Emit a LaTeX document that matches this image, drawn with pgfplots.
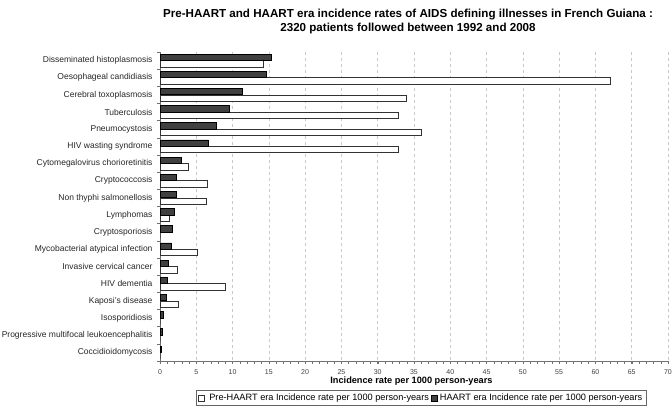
\documentclass[border=0pt]{standalone}
\usepackage{pgfplots}
\pgfplotsset{compat=1.18}
\usepackage{pgfplotstable}
\usepackage{fontspec}
\setmainfont{Liberation Sans}
\definecolor{haart}{HTML}{404040}
\definecolor{spine}{HTML}{707070}
\definecolor{gridc}{HTML}{C8C8C8}
\pgfplotstableread{
pos pre haart
0 14.3 15.4
1 62.1 14.7
2 33.9 11.3
3 32.9 9.6
4 36.0 7.8
5 32.8 6.7
6 3.9 2.9
7 6.5 2.3
8 6.4 2.2
9 1.3 2.0
10 0 1.7
11 5.1 1.6
12 2.4 1.2
13 9.0 1.0
14 2.6 0.9
15 0 0.45
16 0 0.35
17 0 0.15
}\datatab
\begin{document}
\begin{tikzpicture}
\useasboundingbox (0,0) rectangle (672bp,411bp);
\node[font=\bfseries\fontsize{11.6bp}{13bp}\selectfont, align=center] at (408bp,389bp)
 {Pre-HAART and HAART era incidence rates of AIDS defining illnesses in French Guiana :\\[1bp]2320 patients followed between 1992 and 2008};
\begin{axis}[
  at={(160bp,50bp)}, anchor=south west,
  scale only axis, width=508bp, height=309bp,
  xmin=0, xmax=70, ymin=-0.5, ymax=17.5,
  y dir=reverse,
  axis x line*=bottom, axis y line*=left,
  axis line style={spine, line width=0.6bp, -},
  xtick={0,5,...,70}, minor xtick={0,1,...,70},
  ytick={0,...,17},
  yticklabels={Disseminated histoplasmosis,Oesophageal candidiasis,Cerebral toxoplasmosis,Tuberculosis,Pneumocystosis,HIV wasting syndrome,Cytomegalovirus chorioretinitis,Cryptococcosis,Non thyphi salmonellosis,Lymphomas,Cryptosporiosis,Mycobacterial atypical infection,Invasive cervical cancer,HIV dementia,Kaposi's disease,Isosporidiosis,Progressive multifocal leukoencephalitis,Coccidioidomycosis},
  minor ytick={-0.5,0.5,...,17.5},
  tick align=outside,
  major tick length=3bp, minor tick length=2.5bp,
  ytick style={draw=none},
  minor y tick style={draw=spine, line width=0.5bp},
  xtick style={draw=spine, line width=0.5bp},
  minor x tick style={draw=spine, line width=0.4bp},
  xmajorgrids, major x grid style={gridc, dashed, line width=0.5bp},
  /pgf/number format/assume math mode=true,
  x tick label style={font=\fontsize{7bp}{8bp}\selectfont, text=black!75, yshift=-2bp},
  y tick label style={font=\fontsize{8.5bp}{9bp}\selectfont, text=black!85, xshift=-1bp},
  xlabel={Incidence rate per 1000 person-years},
  xlabel style={font=\bfseries\fontsize{9.2bp}{10bp}\selectfont, at={(axis description cs:0.495,-0.065)}, anchor=center},
  xbar, bar shift=0pt, bar width=0.37,
  legend columns=2,
  legend style={at={(axis description cs:0.514,-0.12)}, anchor=center, draw=black!60, line width=0.4bp,
     font=\fontsize{9.2bp}{10bp}\selectfont, inner sep=1.5bp},
  legend image code/.code={\draw[#1, line width=0.5bp] (1bp,-3.2bp) rectangle (7.4bp,3.2bp);},
]
\addplot[draw=black!80, fill=white, line width=0.8bp] table[x=pre, y expr=\thisrow{pos}+0.19] {\datatab};
\addplot[draw=black, fill=haart, line width=0.8bp] table[x=haart, y expr=\thisrow{pos}-0.19] {\datatab};
\legend{\hspace{2.5bp}Pre-HAART era Incidence rate per 1000 person-years, HAART era Incidence rate per 1000 person-years}
\end{axis}
\end{tikzpicture}
\end{document}
